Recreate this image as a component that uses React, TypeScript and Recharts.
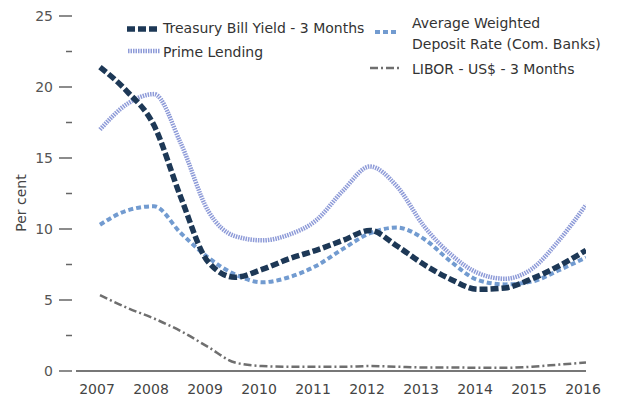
import React from 'react';
import { LineChart, Line, XAxis, YAxis } from 'recharts';

// half-year points
const periods = [2007, 2007.5, 2008, 2008.5, 2009, 2009.5, 2010, 2010.5, 2011, 2011.5, 2012, 2012.5, 2013, 2013.5, 2014, 2014.5, 2015, 2015.5, 2016];
const treasuryBill = [21.4, 19.7, 17.3, 12.2, 7.7, 6.6, 7.15, 7.9, 8.5, 9.2, 9.9, 8.8, 7.5, 6.45, 5.75, 5.85, 6.5, 7.4, 8.5];
const primeLending = [17.0, 18.8, 19.5, 16.0, 11.3, 9.5, 9.2, 9.6, 10.6, 12.7, 14.4, 13.0, 10.2, 8.2, 6.9, 6.5, 7.2, 9.2, 11.7];
const depositRate = [10.3, 11.3, 11.6, 9.7, 8.0, 6.8, 6.25, 6.6, 7.4, 8.6, 9.7, 10.1, 9.3, 7.7, 6.4, 6.1, 6.3, 7.1, 8.0];
const libor = [5.35, 4.45, 3.7, 2.8, 1.7, 0.6, 0.35, 0.3, 0.3, 0.3, 0.35, 0.3, 0.25, 0.25, 0.23, 0.23, 0.3, 0.45, 0.6];

const yearTicks = [2007, 2008, 2009, 2010, 2011, 2012, 2013, 2014, 2015, 2016];
const yTicks = [0, 2.5, 5, 7.5, 10, 12.5, 15, 17.5, 20, 22.5, 25];

const FONT = '"DejaVu Sans", sans-serif';

const SERIES = {
  treasury: { color: '#1d3856', width: 5.5, dash: '8 3' },
  prime: { color: '#8e9bd8', width: 4.5, dash: '1.5 1' },
  deposit: { color: '#729bd0', width: 4, dash: '5 3' },
  libor: { color: '#6f6f6f', width: 2.5, dash: '8 3 2 3' },
};

const data = periods.map((p, i) => ({
  period: p,
  treasury: treasuryBill[i],
  prime: primeLending[i],
  deposit: depositRate[i],
  libor: libor[i],
}));

function YTick({ y, payload }: any) {
  const v = payload.value;
  const major = v % 5 === 0;
  return (
    <g>
      {major && (
        <text x={53} y={y} dy={5} textAnchor="end" fontSize={14} fill="#555" fontFamily={FONT}>
          {v}
        </text>
      )}
      <line x1={major ? 59 : 66} x2={72} y1={y} y2={y} stroke="#666" strokeWidth={1.5} />
    </g>
  );
}

function XTick({ x, y, payload }: any) {
  return (
    <text x={x - 3} y={y} dy={23} textAnchor="middle" fontSize={14} fill="#444" fontFamily={FONT}>
      {payload.value}
    </text>
  );
}

function Swatch({ x1, x2, y, s }: { x1: number; x2: number; y: number; s: { color: string; width: number; dash: string } }) {
  return <line x1={x1} x2={x2} y1={y} y2={y} stroke={s.color} strokeWidth={s.width} strokeDasharray={s.dash} />;
}

function LegendOverlay() {
  const t = { fontSize: 14, fill: '#333', fontFamily: FONT };
  return (
    <svg width={621} height={90} style={{ position: 'absolute', left: 0, top: 0, pointerEvents: 'none' }}>
      <Swatch x1={127} x2={158} y={29} s={SERIES.treasury} />
      <text x={163} y={33} {...t}>Treasury Bill Yield - 3 Months</text>
      <Swatch x1={128} x2={160} y={51} s={SERIES.prime} />
      <text x={163} y={57} {...t}>Prime Lending</text>
      <Swatch x1={375} x2={398} y={32} s={SERIES.deposit} />
      <text x={412} y={28} {...t}>Average Weighted</text>
      <text x={412} y={49} {...t}>Deposit Rate (Com. Banks)</text>
      <Swatch x1={370} x2={400} y={68} s={SERIES.libor} />
      <text x={412} y={74} {...t}>LIBOR - US$ - 3 Months</text>
    </svg>
  );
}

export default function App() {
  return (
    <div style={{ position: 'absolute', left: 0, top: 0, width: 621, height: 413, background: '#fff' }}>
      <LineChart width={621} height={413} data={data} margin={{ top: 16, right: 35, bottom: 0, left: 0 }}>
        <XAxis
          dataKey="period"
          type="number"
          domain={[2006.556, 2016]}
          ticks={yearTicks}
          tick={<XTick />}
          tickLine={false}
          tickSize={0}
          tickMargin={0}
          height={42}
          axisLine={{ stroke: '#777', strokeWidth: 2 }}
          allowDataOverflow
        />
        <YAxis
          domain={[0, 25]}
          ticks={yTicks}
          tick={<YTick />}
          tickLine={false}
          axisLine={false}
          width={76}
          interval={0}
          label={{
            content: () => (
              <text x={21} y={203} transform="rotate(-90 21 203)" textAnchor="middle" dominantBaseline="central" fontSize={14} fill="#444" fontFamily={FONT}>
                Per cent
              </text>
            ),
          }}
        />
        <Line type="monotone" dataKey="libor" stroke={SERIES.libor.color} strokeWidth={SERIES.libor.width} strokeDasharray={SERIES.libor.dash} dot={false} isAnimationActive={false} />
        <Line type="monotone" dataKey="deposit" stroke={SERIES.deposit.color} strokeWidth={SERIES.deposit.width} strokeDasharray={SERIES.deposit.dash} dot={false} isAnimationActive={false} />
        <Line type="monotone" dataKey="prime" stroke={SERIES.prime.color} strokeWidth={SERIES.prime.width} strokeDasharray={SERIES.prime.dash} dot={false} isAnimationActive={false} />
        <Line type="monotone" dataKey="treasury" stroke={SERIES.treasury.color} strokeWidth={SERIES.treasury.width} strokeDasharray={SERIES.treasury.dash} dot={false} isAnimationActive={false} />
      </LineChart>
      <LegendOverlay />
    </div>
  );
}
